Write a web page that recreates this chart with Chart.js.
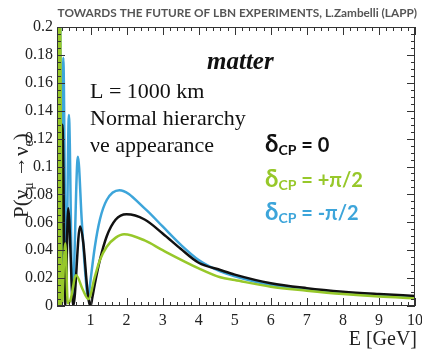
<!DOCTYPE html>
<html>
<head>
<meta charset="utf-8">
<script src="https://cdn.jsdelivr.net/npm/chart.js@4.4.1/dist/chart.umd.min.js"></script>
<style>
  html, body { margin: 0; padding: 0; background: #ffffff; }
  #wrap { width: 422px; height: 350px; }
</style>
</head>
<body>
<div id="wrap"><canvas id="c" width="422" height="350"></canvas></div>
<script>
// Oscillation probability P(numu -> nue) versus neutrino energy, L = 1000 km, matter, normal hierarchy
const blackE = [0.07, 0.10, 0.13, 0.17, 0.22, 0.30, 0.38, 0.52, 0.71, 0.80, 0.90, 0.95, 1.00, 1.05, 1.12, 1.26, 1.45, 1.70, 2.00, 2.50, 3.00, 3.50, 4.00, 4.60, 5.00, 6.00, 7.00, 8.00, 9.00, 10.0];
const blackP = [0.30, 0.00, 0.22, 0.00, 0.13, 0.00, 0.070, 0.000, 0.057, 0.045, 0.015, 0.004, 0.000, 0.006, 0.016, 0.033, 0.050, 0.062, 0.0657, 0.062, 0.052, 0.041, 0.031, 0.0258, 0.0225, 0.0163, 0.0128, 0.0103, 0.0086, 0.0072];

const greenE = [0.07, 0.09, 0.11, 0.13, 0.16, 0.20, 0.30, 0.37, 0.44, 0.60, 0.78, 0.94, 1.12, 1.26, 1.45, 1.70, 1.93, 2.50, 3.00, 4.00, 4.60, 5.00, 6.00, 7.00, 8.00, 9.00, 10.0];
const greenP = [0.30, 0.00, 0.26, 0.00, 0.20, 0.00, 0.045, 0.002, 0.004, 0.022, 0.012, 0.005, 0.021, 0.033, 0.0425, 0.049, 0.0514, 0.047, 0.040, 0.027, 0.0206, 0.0186, 0.0138, 0.011, 0.0086, 0.0068, 0.0055];

const blueE = [0.07, 0.11, 0.15, 0.19, 0.245, 0.32, 0.40, 0.50, 0.65, 0.755, 0.85, 0.94, 0.98, 1.12, 1.26, 1.45, 1.80, 2.50, 3.00, 3.50, 4.00, 4.60, 5.00, 6.00, 7.00, 8.00, 9.00, 10.0];
const blueP = [0.30, 0.02, 0.25, 0.01, 0.178, 0.010, 0.137, 0.005, 0.107, 0.062, 0.025, 0.005, 0.014, 0.0425, 0.062, 0.076, 0.083, 0.070, 0.057, 0.044, 0.033, 0.0248, 0.0213, 0.0150, 0.0117, 0.0094, 0.0078, 0.0065];

const xTickValues = [1, 2, 3, 4, 5, 6, 7, 8, 9, 10];
const xTickLabels = ['1', '2', '3', '4', '5', '6', '7', '8', '9', '10'];
const yTickValues = [0, 0.02, 0.04, 0.06, 0.08, 0.1, 0.12, 0.14, 0.16, 0.18, 0.2];
const yTickLabels = ['0', '0.02', '0.04', '0.06', '0.08', '0.1', '0.12', '0.14', '0.16', '0.18', '0.2'];

const seriesNames = ['δCP = +π/2', 'δCP = 0', 'δCP = -π/2'];
const COL_BLUE = '#3da5da';
const COL_BLACK = '#111111';
const COL_GREEN = '#97c82a';

const SERIF = '"Liberation Serif", "DejaVu Serif", serif';
const SANS = 'Lato, "Open Sans", sans-serif';

const toPoints = (xs, ys) => xs.map((x, i) => ({ x: x, y: ys[i] }));

// frame with inward ticks on all four sides, plus the text annotations
const decor = {
  id: 'decor',
  afterDatasetsDraw(chart) {
    const ctx = chart.ctx;
    const a = chart.chartArea;
    const sx = chart.scales.x, sy = chart.scales.y;
    ctx.save();
    ctx.strokeStyle = '#333333';
    ctx.lineWidth = 1;
    ctx.strokeRect(a.left + 0.5, a.top + 0.5, a.right - a.left - 1, a.bottom - a.top - 1);
    ctx.beginPath();
    for (let k = 1; k <= 50; k++) {
      const v = k * 0.2;
      if (v < sx.min || v > sx.max + 1e-9) continue;
      const len = (k % 5 === 0) ? 8 : 4;
      const px = Math.round(sx.getPixelForValue(v)) + 0.5;
      ctx.moveTo(px, a.bottom); ctx.lineTo(px, a.bottom - len);
      ctx.moveTo(px, a.top); ctx.lineTo(px, a.top + len);
    }
    for (let k = 0; k <= 40; k++) {
      const v = k * 0.005;
      const len = (k % 4 === 0) ? 8 : 4;
      const py = Math.round(sy.getPixelForValue(v)) + 0.5;
      ctx.moveTo(a.left, py); ctx.lineTo(a.left + len, py);
      ctx.moveTo(a.right, py); ctx.lineTo(a.right - len, py);
    }
    ctx.stroke();
    ctx.restore();
  },
  afterDraw(chart) {
    const ctx = chart.ctx;
    ctx.save();
    // header
    ctx.fillStyle = '#555555';
    ctx.font = 'bold 11.8px ' + SANS;
    ctx.textAlign = 'right';
    ctx.textBaseline = 'alphabetic';
    ctx.fillText('TOWARDS THE FUTURE OF LBN EXPERIMENTS, L.Zambelli (LAPP)', 417, 17);

    // x axis title
    ctx.fillStyle = '#222222';
    ctx.font = '20px ' + SERIF;
    ctx.fillText('E [GeV]', 417, 345);

    // y axis title, rotated, with subscripts
    ctx.save();
    ctx.translate(28, 218);
    ctx.rotate(-Math.PI / 2);
    ctx.textAlign = 'left';
    let x = 0;
    const part = (t, size, dy) => {
      ctx.font = size + 'px ' + SERIF;
      ctx.fillText(t, x, dy);
      x += ctx.measureText(t).width;
    };
    part('P(', 21, 0);
    part('ν', 21, 0);
    part('μ', 14, 5);
    part(' →', 21, -3);
    part('ν', 21, 0);
    part('e', 14, 5);
    part(')', 21, 0);
    ctx.restore();

    // plot annotations
    ctx.textAlign = 'left';
    ctx.fillStyle = '#111111';
    ctx.font = 'bold italic 25px ' + SERIF;
    ctx.fillText('matter', 207, 69);
    ctx.font = '22px ' + SERIF;
    ctx.fillText('L = 1000 km', 90, 98);
    ctx.fillText('Normal hierarchy', 90, 125);
    ctx.fillText('νe appearance', 90, 152);

    const delta = (px, py, color, rest) => {
      ctx.fillStyle = color;
      ctx.font = 'bold 24px ' + SANS;
      ctx.fillText('δ', px, py);
      let cx = px + ctx.measureText('δ').width;
      ctx.font = 'bold 14px ' + SANS;
      ctx.fillText('CP', cx, py + 3);
      cx += ctx.measureText('CP').width;
      ctx.font = 'bold 20px ' + SANS;
      ctx.fillText(rest, cx, py);
    };
    delta(265, 152, COL_BLACK, ' = 0');
    delta(265, 187, COL_GREEN, ' = +π/2');
    delta(265, 220, COL_BLUE, ' = -π/2');
    ctx.restore();
  }
};

new Chart(document.getElementById('c'), {
  type: 'line',
  data: {
    datasets: [
      { label: seriesNames[0], data: toPoints(greenE, greenP), borderColor: COL_GREEN },
      { label: seriesNames[1], data: toPoints(blackE, blackP), borderColor: COL_BLACK },
      { label: seriesNames[2], data: toPoints(blueE, blueP), borderColor: COL_BLUE }
    ]
  },
  options: {
    responsive: false,
    animation: false,
    devicePixelRatio: 1,
    layout: { padding: { left: 0, right: 7, top: 27, bottom: 0 } },
    elements: {
      point: { radius: 0 },
      line: { borderWidth: 2.5, cubicInterpolationMode: 'monotone', fill: false }
    },
    plugins: { legend: { display: false }, tooltip: { enabled: false }, title: { display: false } },
    scales: {
      x: {
        type: 'linear', min: 0.07, max: 10,
        afterBuildTicks: s => { s.ticks = xTickValues.map(v => ({ value: v })); },
        afterFit: s => { s.height = 44; s.paddingLeft = 0; s.paddingRight = 0; },
        grid: { display: false, drawTicks: false, tickLength: 0 }, border: { display: false },
        ticks: {
          autoSkip: false, maxRotation: 0, padding: 5, color: '#222222',
          font: { family: SERIF, size: 16 },
          callback: (v, i) => xTickLabels[i]
        }
      },
      y: {
        type: 'linear', min: 0, max: 0.2,
        afterBuildTicks: s => { s.ticks = yTickValues.map(v => ({ value: v })); },
        afterFit: s => { s.width = 57; s.paddingTop = 0; s.paddingBottom = 0; },
        grid: { display: false, drawTicks: false, tickLength: 0 }, border: { display: false },
        ticks: {
          autoSkip: false, padding: 4, color: '#222222',
          font: { family: SERIF, size: 16 },
          callback: (v, i) => yTickLabels[i]
        }
      }
    }
  },
  plugins: [decor]
});
</script>
</body>
</html>
